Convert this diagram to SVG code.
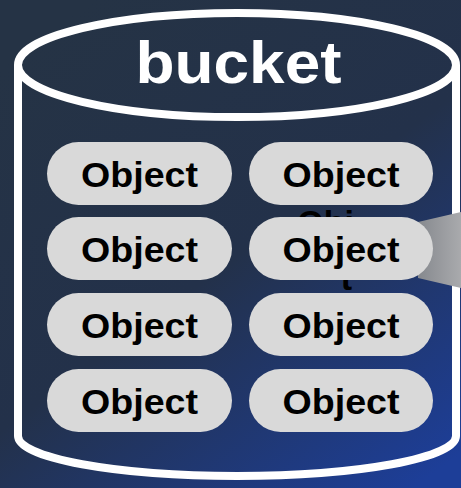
<svg xmlns="http://www.w3.org/2000/svg" width="461" height="488" viewBox="0 0 461 488">
  <defs>
    <linearGradient id="bg" x1="0.2" y1="0" x2="0.9" y2="1">
      <stop offset="0" stop-color="#253345"/>
      <stop offset="0.5" stop-color="#23314a"/>
      <stop offset="1" stop-color="#1d3e98"/>
    </linearGradient>
    <linearGradient id="ray" x1="0" y1="0" x2="1" y2="0">
      <stop offset="0" stop-color="#86898e"/>
      <stop offset="1" stop-color="#a9aaad"/>
    </linearGradient>
    <style>
      .can { fill: none; stroke: #ffffff; stroke-width: 8; }
      .pill { fill: #d9d9d9; }
      .lbl { font-family: "Liberation Sans", Arial, sans-serif; font-weight: bold; font-size: 35px; fill: #000000; text-anchor: middle; }
      .ghost { font-family: "Liberation Sans", Arial, sans-serif; font-weight: bold; font-size: 34px; fill: #000000; text-anchor: end; }
      .title { font-family: "Liberation Sans", Arial, sans-serif; font-weight: bold; font-size: 60px; fill: #ffffff; text-anchor: middle; }
    </style>
  </defs>
  <rect x="0" y="0" width="461" height="488" fill="url(#bg)"/>

  <g id="bucket">
    <path class="can" d="M18,65 L18,436 A219,40 0 0 0 456,436 L456,65"/>
    <ellipse class="can" cx="237" cy="65" rx="219" ry="52"/>
    <text class="title" x="238.5" y="83" textLength="206" lengthAdjust="spacingAndGlyphs">bucket</text>
  </g>

  <g id="ghost-label">
    <text class="ghost" x="354" y="234">Obj</text>
    <text class="ghost" x="354" y="262">ec</text>
    <text class="ghost" x="352" y="290">t</text>
  </g>

  <g id="callout">
    <polygon points="418,222 461,212 461,288 418,278" fill="url(#ray)"/>
  </g>

  <g id="obj-1-1"><rect class="pill" x="47" y="142" width="185" height="63" rx="31.5"/><text class="lbl" x="139.5" y="187" textLength="117" lengthAdjust="spacingAndGlyphs">Object</text></g>
  <g id="obj-1-2"><rect class="pill" x="249" y="142" width="184" height="63" rx="31.5"/><text class="lbl" x="341" y="187" textLength="117" lengthAdjust="spacingAndGlyphs">Object</text></g>
  <g id="obj-2-1"><rect class="pill" x="47" y="217" width="185" height="63" rx="31.5"/><text class="lbl" x="139.5" y="262" textLength="117" lengthAdjust="spacingAndGlyphs">Object</text></g>
  <g id="obj-2-2"><rect class="pill" x="249" y="217" width="184" height="63" rx="31.5"/><text class="lbl" x="341" y="262" textLength="117" lengthAdjust="spacingAndGlyphs">Object</text></g>
  <g id="obj-3-1"><rect class="pill" x="47" y="293" width="185" height="63" rx="31.5"/><text class="lbl" x="139.5" y="338" textLength="117" lengthAdjust="spacingAndGlyphs">Object</text></g>
  <g id="obj-3-2"><rect class="pill" x="249" y="293" width="184" height="63" rx="31.5"/><text class="lbl" x="341" y="338" textLength="117" lengthAdjust="spacingAndGlyphs">Object</text></g>
  <g id="obj-4-1"><rect class="pill" x="47" y="369" width="185" height="63" rx="31.5"/><text class="lbl" x="139.5" y="414" textLength="117" lengthAdjust="spacingAndGlyphs">Object</text></g>
  <g id="obj-4-2"><rect class="pill" x="249" y="369" width="184" height="63" rx="31.5"/><text class="lbl" x="341" y="414" textLength="117" lengthAdjust="spacingAndGlyphs">Object</text></g>

  <g id="connectors"/>
</svg>
